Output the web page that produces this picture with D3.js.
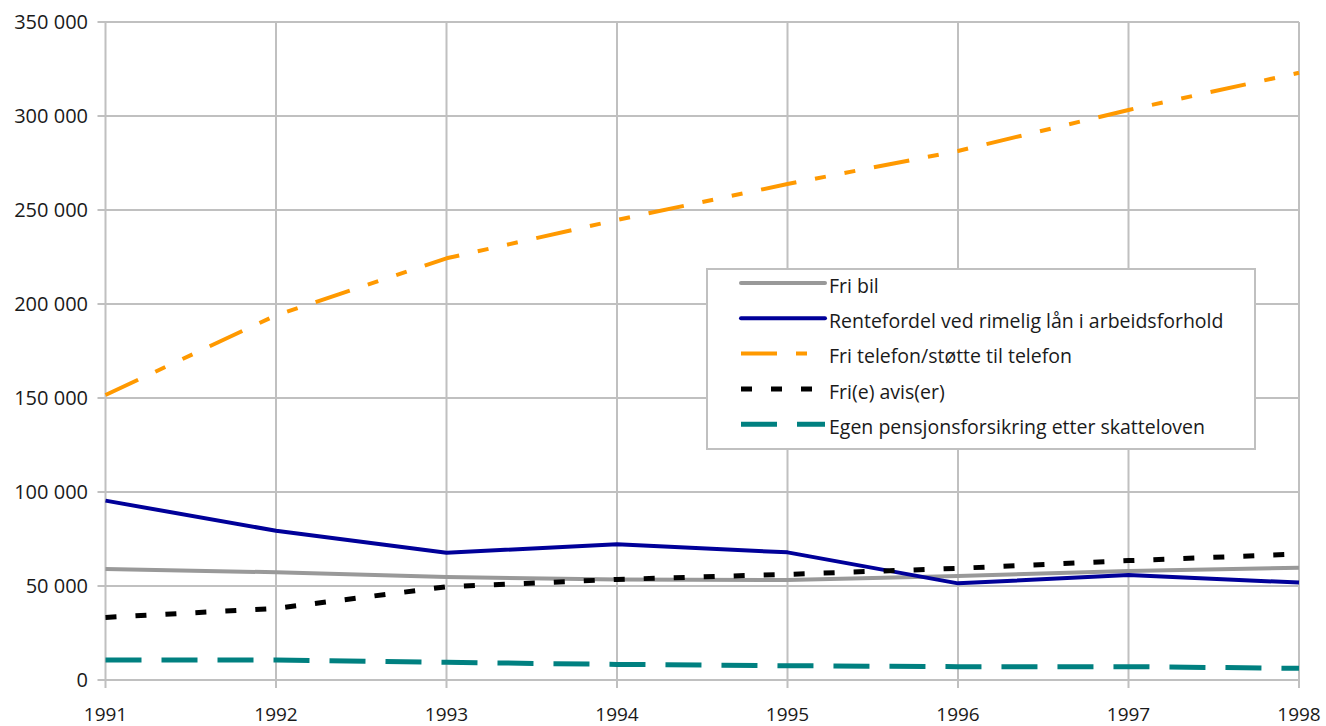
<!DOCTYPE html>
<html>
<head>
<meta charset="utf-8">
<script src="https://cdn.jsdelivr.net/npm/d3@7"></script>
<style>
  body { margin: 0; background: #fff; }
  text { font-family: "Open Sans", sans-serif; fill: #1a1a1a; }
</style>
</head>
<body>
<div id="chart"></div>
<script>
const years = [1991, 1992, 1993, 1994, 1995, 1996, 1997, 1998];
const yTicks = [0, 50000, 100000, 150000, 200000, 250000, 300000, 350000];

const friBil = [59000, 57300, 54800, 53400, 53200, 55300, 58000, 59700];
const rentefordel = [95400, 79400, 67700, 72200, 67900, 51400, 55900, 51800];
const telefon = [151600, 194000, 224300, 244700, 263800, 281400, 303200, 323000];
const avis = [33300, 38100, 49600, 53500, 56200, 59400, 63500, 67000];
const pensjon = [10600, 10600, 9400, 8300, 7600, 7100, 7100, 6200];

const seriesNames = [
  'Fri bil',
  'Rentefordel ved rimelig lån i arbeidsforhold',
  'Fri telefon/støtte til telefon',
  'Fri(e) avis(er)',
  'Egen pensjonsforsikring etter skatteloven'
];

const styles = [
  { color: '#999999', width: 4, dash: null },
  { color: '#000099', width: 4, dash: null },
  { color: '#ff9900', width: 4, dash: '36,19,11,19,11,19' },
  { color: '#000000', width: 5, dash: '11,19' },
  { color: '#008080', width: 5, dash: '36,20' }
];

const allSeries = [friBil, rentefordel, telefon, avis, pensjon];

const width = 1326, height = 726;
const plot = { left: 105.5, right: 1299, top: 22, bottom: 680 };

const svg = d3.select('#chart').append('svg')
  .attr('width', width)
  .attr('height', height);

const x = d3.scaleLinear().domain([1991, 1998]).range([plot.left, plot.right]);
const y = d3.scaleLinear().domain([0, 350000]).range([plot.bottom, plot.top]);

const fmt = v => d3.format(',')(v).replace(/,/g, ' ');

// grid
svg.append('g')
  .selectAll('line')
  .data(yTicks)
  .join('line')
    .attr('x1', plot.left - 8).attr('x2', plot.right)
    .attr('y1', d => y(d)).attr('y2', d => y(d))
    .attr('stroke', '#c0c0c0').attr('stroke-width', 2);

svg.append('g')
  .selectAll('line')
  .data(years)
  .join('line')
    .attr('x1', d => x(d)).attr('x2', d => x(d))
    .attr('y1', plot.top).attr('y2', plot.bottom + 8)
    .attr('stroke', '#c0c0c0').attr('stroke-width', 2);

// axis labels
svg.append('g')
  .selectAll('text')
  .data(yTicks)
  .join('text')
    .attr('x', 88)
    .attr('y', d => y(d))
    .attr('dy', '0.35em')
    .attr('text-anchor', 'end')
    .style('font-size', '20px')
    .text(fmt);

svg.append('g')
  .selectAll('text')
  .data(years)
  .join('text')
    .attr('x', d => x(d))
    .attr('y', 721)
    .attr('text-anchor', 'middle')
    .style('font-size', '19px')
    .text(d => d);

// lines
const line = d3.line()
  .x((d, i) => x(years[i]))
  .y(d => y(d));

allSeries.forEach((s, i) => {
  svg.append('path')
    .datum(s)
    .attr('d', line)
    .attr('fill', 'none')
    .attr('stroke', styles[i].color)
    .attr('stroke-width', styles[i].width)
    .attr('stroke-dasharray', styles[i].dash)
    .attr('stroke-linejoin', 'round');
});

// legend
const legend = svg.append('g');
legend.append('rect')
  .attr('x', 707).attr('y', 269)
  .attr('width', 548).attr('height', 180)
  .attr('fill', '#fff')
  .attr('stroke', '#c0c0c0').attr('stroke-width', 2);

seriesNames.forEach((name, i) => {
  const cy = 283 + i * 35.3;
  legend.append('line')
    .attr('x1', 741).attr('x2', 825)
    .attr('y1', cy).attr('y2', cy)
    .attr('stroke', styles[i].color)
    .attr('stroke-width', styles[i].width)
    .attr('stroke-dasharray', styles[i].dash)
    .attr('stroke-linecap', styles[i].dash ? 'butt' : 'round');
  legend.append('text')
    .attr('x', 829)
    .attr('y', cy + 3)
    .attr('dy', '0.35em')
    .style('font-size', '19.5px')
    .text(name);
});
</script>
</body>
</html>
